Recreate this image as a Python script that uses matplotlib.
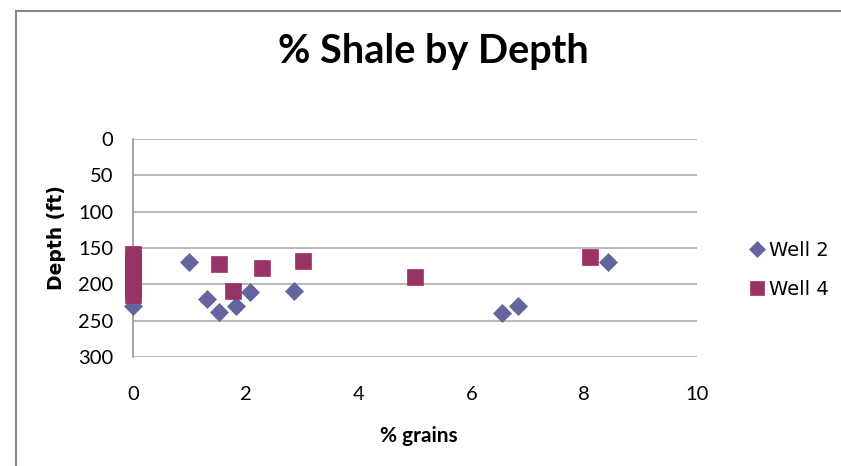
import matplotlib
matplotlib.use("Agg")
import matplotlib.pyplot as plt
from matplotlib.lines import Line2D

# Data
well2_x = [0, 1.0, 1.31, 1.52, 1.83, 2.07, 2.85, 6.54, 6.83, 8.42]
well2_depth = [230, 169, 220, 238, 230, 210, 209, 239, 230, 169]
well4_x = [0, 0, 0, 0, 0, 0, 0, 0, 0, 1.52, 1.78, 2.28, 3.01, 5.0, 8.1]
well4_depth = [158, 165, 172, 180, 188, 195, 203, 208, 214, 172, 209, 177, 168, 190, 163]
x_ticks = [0, 2, 4, 6, 8, 10]
y_ticks = [0, 50, 100, 150, 200, 250, 300]

title = "% Shale by Depth"
xlabel = "% grains"
ylabel = "Depth (ft)"
series_names = ["Well 2", "Well 4"]
colors = ["#64649E", "#993366"]

W, H = 841, 466
fig = plt.figure(figsize=(W / 100, H / 100), dpi=100)
fig.patch.set_facecolor("white")

# outer chart border (top and left edges visible)
fig.lines.append(Line2D([16 / W, 16 / W], [-0.05, 1 - 11 / H], transform=fig.transFigure,
                        color="#878787", linewidth=1.5))
fig.lines.append(Line2D([16 / W, 1.05], [1 - 11 / H, 1 - 11 / H], transform=fig.transFigure,
                        color="#878787", linewidth=1.5))

ax = fig.add_axes([133 / W, 1 - 357 / H, (697 - 133) / W, (357 - 139) / H])
ax.set_xlim(0, 10)
ax.set_ylim(300, 0)
ax.set_xticks(x_ticks)
ax.set_yticks(y_ticks)
ax.set_xticklabels([str(v) for v in x_ticks], fontsize=14.5, fontfamily="Lato")
ax.set_yticklabels([str(v) for v in y_ticks], fontsize=14.5, fontfamily="Lato")
ax.tick_params(axis="both", length=0)
ax.tick_params(axis="x", pad=21)
ax.tick_params(axis="y", pad=14)
ax.grid(axis="y", color="#A6A6A6", linewidth=1.1)
ax.set_axisbelow(True)
for s in ["top", "right", "bottom"]:
    ax.spines[s].set_visible(False)
ax.spines["left"].set_color("#8C8C8C")
ax.spines["left"].set_linewidth(1.1)

ax.plot(well2_x, well2_depth, linestyle="none", marker="D", markersize=9,
        color=colors[0], markeredgecolor=colors[0], markeredgewidth=0.5,
        label=series_names[0], clip_on=False, zorder=3)
ax.plot(well4_x, well4_depth, linestyle="none", marker="s", markersize=12,
        color=colors[1], markeredgecolor=colors[1], markeredgewidth=0.5,
        label=series_names[1], clip_on=False, zorder=4)

fig.text(433 / W, 1 - 51 / H, title, ha="center", va="center", fontsize=28.5,
         fontweight="bold", fontfamily="Lato")
fig.text(419 / W, 1 - 436 / H, xlabel, ha="center", va="center", fontsize=15,
         fontweight="bold", fontfamily="Lato")
fig.text(57 / W, 1 - 238 / H, ylabel, ha="center", va="center", fontsize=13.5,
         fontweight="bold", fontfamily="DejaVu Sans", rotation=90)

leg = ax.legend(loc="center left", bbox_to_anchor=(729 / W, 1 - 270 / H),
                bbox_transform=fig.transFigure, frameon=False,
                prop={"family": "DejaVu Sans", "size": 14},
                handletextpad=0.05, labelspacing=1.0, handlelength=1.1,
                markerscale=0.85)

fig.savefig("out.png", dpi=100)
